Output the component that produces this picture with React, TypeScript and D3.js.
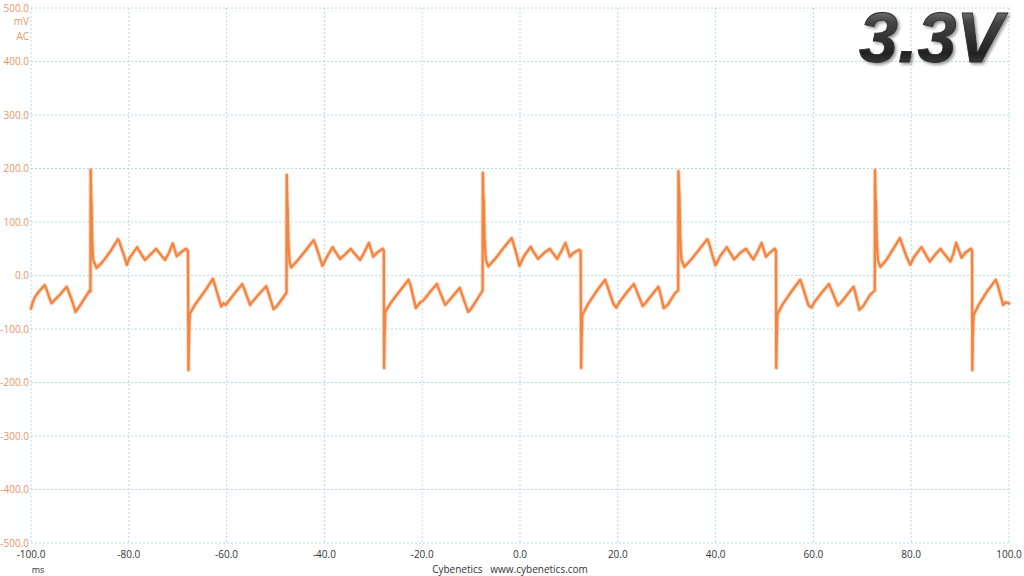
import React from "react";
import * as d3 from "d3";

// X axis ticks (ms) and Y axis ticks (mV)
const xTicks = [-100, -80, -60, -40, -20, 0, 20, 40, 60, 80, 100];
const yTicks = [500, 400, 300, 200, 100, 0, -100, -200, -300, -400, -500];

// Trace samples: [time ms, ripple mV]
const traceStart: [number, number][] = [
  [-100, -62], [-99.7, -52], [-99.2, -40], [-98.2, -28], [-97.2, -18], [-96.9, -24], [-96.3, -40],
  [-95.8, -52], [-95.3, -47], [-94, -35], [-92.7, -21], [-92.3, -30], [-91.5, -50], [-90.9, -68],
  [-90.4, -62], [-89.2, -45], [-88, -28], [-87.85, -30],
];
const period1: [number, number][] = [
  [-87.8, 198], [-87.7, 150], [-87.6, 130], [-87.5, 70], [-87.3, 30], [-86.6, 14], [-85.5, 24],
  [-84, 42], [-82.2, 68], [-81.9, 62], [-81, 38], [-80.4, 20], [-79.9, 32], [-78.3, 53], [-78, 48],
  [-76.7, 29], [-75.5, 40], [-74.4, 50], [-74.1, 46], [-72.6, 29], [-71.8, 42], [-71, 60], [-70.2, 36],
  [-69.5, 42], [-68.3, 50], [-67.9, 46],
  [-67.8, -177], [-67.7, -120], [-67.55, -72], [-66.5, -55], [-64.5, -30], [-62.8, -6], [-62.4, -18],
  [-61.1, -58], [-60.6, -52], [-60.2, -55], [-58.5, -35], [-56.8, -16], [-56.4, -25], [-55.2, -55],
  [-54.8, -50], [-53.5, -36], [-51.9, -20], [-51.6, -28], [-50.4, -63], [-49.8, -58], [-48.5, -42],
  [-47.75, -32],
];
const period2: [number, number][] = [
  [-47.7, 188], [-47.6, 140], [-47.5, 120], [-47.35, 60], [-47.1, 25], [-46.8, 15], [-45.5, 28],
  [-44, 45], [-42.2, 66], [-41.9, 60], [-41, 35], [-40.4, 18], [-39.3, 38], [-38.3, 53], [-38, 48],
  [-36.8, 31], [-35.7, 40], [-34.6, 50], [-34.3, 46], [-32.7, 29], [-31.8, 44], [-30.9, 61], [-30, 35],
  [-29.3, 42], [-28.1, 50], [-27.85, 46],
  [-27.8, -173], [-27.7, -115], [-27.55, -68], [-26.5, -52], [-24.5, -28], [-22.8, -8], [-22.4, -18],
  [-21.3, -61], [-20.4, -50], [-19.8, -47], [-18.5, -32], [-17, -16], [-16.6, -26], [-15.3, -55],
  [-14.8, -50], [-13.5, -36], [-12.3, -23], [-12, -32], [-10.6, -68], [-10, -62], [-8.8, -45],
  [-7.65, -28],
];
const period3: [number, number][] = [
  [-7.6, 192], [-7.5, 148], [-7.4, 140], [-7.25, 70], [-7, 30], [-6.5, 17], [-5, 32], [-3.5, 50],
  [-1.7, 70], [-1.4, 62], [-0.6, 36], [-0.1, 18], [0.8, 36], [2.2, 54], [2.5, 48], [3.7, 31],
  [4.9, 42], [6.1, 50], [6.4, 46], [7.6, 31], [8.5, 46], [9.3, 61], [10.2, 35], [10.9, 42],
  [12.1, 48], [12.4, 46],
  [12.5, -173], [12.6, -115], [12.75, -74], [13.8, -55], [15.6, -30], [17.4, -8], [17.8, -18],
  [19.1, -53], [19.7, -60], [20.3, -50], [21.8, -32], [23.3, -16], [23.7, -25], [25.1, -57],
  [25.6, -52], [27, -36], [28.3, -21], [28.6, -30], [29.4, -61], [30.2, -55], [31.7, -33],
  [32.35, -28],
];
const period4: [number, number][] = [
  [32.4, 195], [32.5, 166], [32.6, 150], [32.75, 76], [33, 30], [33.6, 16], [35, 30], [36.6, 48],
  [38.3, 68], [38.6, 62], [39.4, 36], [40, 19], [40.9, 36], [42.3, 53], [42.6, 48], [43.8, 30],
  [45, 42], [46.2, 50], [46.5, 46], [47.7, 30], [48.6, 45], [49.4, 61], [50.3, 35], [51, 42],
  [52.1, 50], [52.35, 46],
  [52.4, -173], [52.5, -115], [52.65, -72], [53.7, -54], [55.5, -30], [57.3, -8], [57.7, -18],
  [59, -56], [59.6, -60], [60.2, -50], [61.7, -32], [63.2, -16], [63.6, -25], [65, -56],
  [65.5, -52], [66.9, -36], [68.2, -21], [68.5, -30], [69.4, -64], [70.2, -57], [71.6, -36],
  [72.55, -28],
];
const period5: [number, number][] = [
  [72.6, 197], [72.7, 150], [72.8, 130], [72.95, 65], [73.2, 28], [73.7, 16], [75, 30], [76.2, 48],
  [77.7, 70], [78, 62], [79, 36], [79.8, 20], [80.6, 35], [82.1, 53], [82.4, 48], [83.8, 26],
  [85, 40], [86, 50], [86.3, 46], [88, 26], [88.6, 40], [89.2, 61], [90.3, 33], [91, 42],
  [92.2, 50], [92.45, 46],
  [92.5, -177], [92.6, -115], [92.75, -74], [93.8, -55], [95.5, -30], [97.3, -8], [97.7, -18],
  [98.8, -55], [99.3, -50], [100, -52],
];

const trace = [...traceStart, ...period1, ...period2, ...period3, ...period4, ...period5];

const W = 1024;
const H = 576;
const ML = 31, MR = 1009, MT = 8, MB = 543;

export default function App() {
  const x = d3.scaleLinear().domain([-100, 100]).range([ML, MR]);
  const y = d3.scaleLinear().domain([-500, 500]).range([MB, MT]);
  const line = d3
    .line<[number, number]>()
    .x((d) => x(d[0]))
    .y((d) => y(d[1]));
  const d = line(trace) || "";

  const gridColor = "#b3dbe8";
  const font = "'Open Sans', 'Noto Sans', sans-serif";

  return (
    <svg
      width={W}
      height={H}
      style={{ position: "absolute", left: 0, top: 0, background: "#fff" }}
    >
      <defs>
        <linearGradient id="titleGrad" x1="0" y1="0" x2="0" y2="1">
          <stop offset="0" stopColor="#a0a0a0" />
          <stop offset="0.3" stopColor="#444" />
          <stop offset="0.7" stopColor="#222" />
          <stop offset="1" stopColor="#5a5a5a" />
        </linearGradient>
        <filter id="shadow" x="-10%" y="-10%" width="130%" height="140%">
          <feGaussianBlur in="SourceAlpha" stdDeviation="1.5" />
          <feOffset dx="2" dy="2" result="b" />
          <feComponentTransfer>
            <feFuncA type="linear" slope="0.4" />
          </feComponentTransfer>
          <feMerge>
            <feMergeNode />
            <feMergeNode in="SourceGraphic" />
          </feMerge>
        </filter>
      </defs>
      <rect x={0} y={0} width={W} height={H} fill="#fff" />
      {/* grid */}
      {xTicks.map((t) => (
        <line
          key={"gx" + t}
          x1={x(t)}
          x2={x(t)}
          y1={MT}
          y2={MB}
          stroke={gridColor}
          strokeWidth={1}
          strokeDasharray="2,2"
        />
      ))}
      {yTicks.map((t) => (
        <line
          key={"gy" + t}
          x1={ML}
          x2={MR}
          y1={y(t)}
          y2={y(t)}
          stroke={gridColor}
          strokeWidth={1}
          strokeDasharray="2,2"
        />
      ))}
      {/* y tick labels */}
      {yTicks.map((t) => (
        <text
          key={"ly" + t}
          x={29}
          y={y(t) + 3.5}
          textAnchor="end"
          fontFamily={font}
          fontSize={10}
          fill="#ec9467"
        >
          {t.toFixed(1)}
        </text>
      ))}
      <text x={29} y={25} textAnchor="end" fontFamily={font} fontSize={10} fill="#ec9467">
        mV
      </text>
      <text x={29} y={40} textAnchor="end" fontFamily={font} fontSize={10} fill="#ec9467">
        AC
      </text>
      {/* x tick labels */}
      {xTicks.map((t) => (
        <text
          key={"lx" + t}
          x={x(t)}
          y={558}
          textAnchor="middle"
          fontFamily={font}
          fontSize={10}
          fill="#333"
        >
          {t.toFixed(1)}
        </text>
      ))}
      <text x={38} y={573} textAnchor="middle" fontFamily={font} fontSize={9} fill="#333">
        ms
      </text>
      <text x={510} y={573} textAnchor="middle" fontFamily={font} fontSize={10} fill="#333">
        Cybenetics{"\u00a0\u00a0\u00a0"}www.cybenetics.com
      </text>
      {/* trace: soft halo for noise band, then core line */}
      <path
        d={d}
        fill="none"
        stroke="#f6a070"
        strokeOpacity={0.45}
        strokeWidth={4.2}
        strokeLinejoin="round"
        strokeLinecap="round"
      />
      <path
        d={d}
        fill="none"
        stroke="#f5843f"
        strokeWidth={2.3}
        strokeLinejoin="round"
        strokeLinecap="round"
      />
      {/* title */}
      <text
        x={1003}
        y={62}
        textAnchor="end"
        fontFamily="'Liberation Sans', Arial, sans-serif"
        fontWeight="bold"
        fontStyle="italic"
        fontSize={70}
        fill="url(#titleGrad)"
        stroke="#2a2a2a"
        strokeWidth={0.8}
        filter="url(#shadow)"
      >
        3.3V
      </text>
    </svg>
  );
}
